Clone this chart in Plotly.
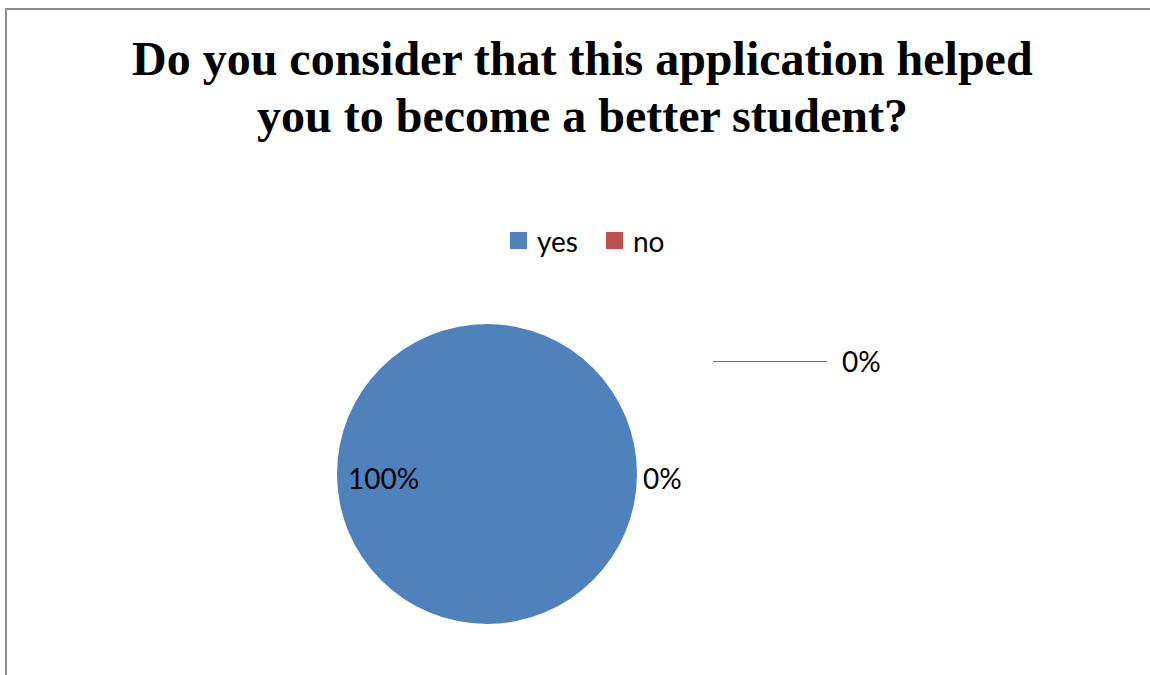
import plotly.graph_objects as go

# Survey answers
answers = ["yes", "no"]
counts = [100, 0]
colors = ["#4F81BD", "#C0504D"]
title_lines = ["Do you consider that this application helped",
               "you to become a better student?"]

W, H = 1150, 675
total = sum(counts)
pct = [f"{c / total:.0%}" for c in counts]


def px(x):
    return x / W


def py(y):
    return 1 - y / H


fig = go.Figure(
    go.Pie(
        labels=answers,
        values=counts,
        marker=dict(colors=colors, line=dict(width=0)),
        textinfo="none",
        hoverinfo="label+percent",
        sort=False,
        direction="clockwise",
        rotation=0,
        showlegend=False,
        domain=dict(x=[px(337), px(637)], y=[py(625), py(323)]),
    )
)

text_family = "Lato, 'Liberation Sans', sans-serif"
label_font = dict(family=text_family, size=28, color="#000000")

# Title, one annotation per line
for i, line in enumerate(title_lines):
    fig.add_annotation(x=px(582), y=py(58 + 57 * i), xref="paper", yref="paper",
                       text=f"<b>{line}</b>", showarrow=False,
                       xanchor="center", yanchor="middle",
                       font=dict(family="'Liberation Serif', 'Times New Roman', serif",
                                 size=48, color="#000000"))

# Legend: coloured squares with their names
legend_x = [510, 606]
for name, col, lx in zip(answers, colors, legend_x):
    fig.add_shape(type="rect", xref="paper", yref="paper",
                  x0=px(lx), x1=px(lx + 17), y0=py(232), y1=py(249),
                  fillcolor=col, line=dict(width=0))
    fig.add_annotation(x=px(lx + 25), y=py(241), xref="paper", yref="paper",
                       text=name, showarrow=False, xanchor="left", yanchor="middle",
                       font=label_font)

# Data labels
fig.add_annotation(x=px(346), y=py(478), xref="paper", yref="paper", text=pct[0],
                   showarrow=False, xanchor="left", yanchor="middle", font=label_font)
fig.add_annotation(x=px(641), y=py(478), xref="paper", yref="paper", text=pct[1],
                   showarrow=False, xanchor="left", yanchor="middle", font=label_font)
fig.add_annotation(x=px(840), y=py(361), xref="paper", yref="paper", text=pct[1],
                   showarrow=False, xanchor="left", yanchor="middle", font=label_font)

# Leader line for the second "no" label
fig.add_shape(type="line", xref="paper", yref="paper",
              x0=px(713), x1=px(827), y0=py(361.5), y1=py(361.5),
              line=dict(color=colors[1], width=1))

# Chart-area border
fig.add_shape(type="rect", xref="paper", yref="paper",
              x0=px(6), x1=px(1160), y0=py(9), y1=py(690),
              line=dict(color="#8c8c8c", width=2))

fig.update_layout(
    width=W,
    height=H,
    margin=dict(l=0, r=0, t=0, b=0),
    paper_bgcolor="white",
    plot_bgcolor="white",
    showlegend=False,
)

fig.write_html("out.html")
